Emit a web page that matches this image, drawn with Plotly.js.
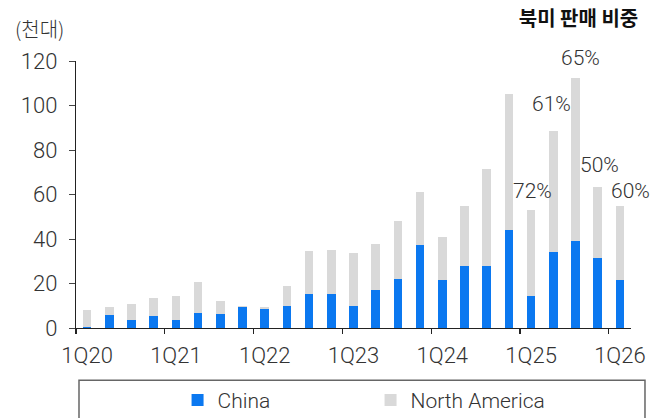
<!DOCTYPE html>
<html>
<head>
<meta charset="utf-8">
<script src="https://cdn.plot.ly/plotly-3.0.1.min.js"></script>
<style>html,body{margin:0;padding:0;background:#fff;}#chart{width:669px;height:418px;}</style>
</head>
<body>
<div id="chart"></div>
<script>
// Quarterly sales (thousand units)
const quarters = ['1Q20','2Q20','3Q20','4Q20','1Q21','2Q21','3Q21','4Q21','1Q22','2Q22','3Q22','4Q22',
  '1Q23','2Q23','3Q23','4Q23','1Q24','2Q24','3Q24','4Q24','1Q25','2Q25','3Q25','4Q25','1Q26'];
const china = [0.5, 5.7, 3.6, 5.4, 3.6, 6.6, 6.2, 9.4, 8.5, 9.9, 15.1, 15.1,
  9.8, 17.1, 21.9, 37.2, 21.4, 27.7, 27.7, 43.9, 14.2, 34.0, 39.0, 31.3, 21.4];
const northAmerica = [7.8, 3.7, 7.2, 8.1, 10.8, 14.2, 5.9, 0.5, 1.1, 9.0, 19.5, 20.0,
  23.9, 20.7, 26.1, 23.8, 19.4, 27.1, 43.6, 61.1, 38.7, 54.4, 73.5, 31.9, 33.4];
// North America share labels
const shareQuarters = ['1Q25','2Q25','3Q25','4Q25','1Q26'];
const shareLabels = ['72%','61%','65%','50%','60%'];
const tickQuarters = ['1Q20','1Q21','1Q22','1Q23','1Q24','1Q25','1Q26'];

// label offsets (px) – style only
const shareShift = [[1,19],[-1.5,27],[5,19.5],[2,22.5],[11,15.5]];

const xIdx = quarters.map((q,i)=>i);
const totals = china.map((v,i)=>v+northAmerica[i]);
const FONT = 'Roboto, "Noto Sans CJK KR", sans-serif';
const TXT = '#333333';

const traces = [
  {type:'bar', name:'China', x:xIdx, y:china, marker:{color:'#0B78F0'}, hoverinfo:'skip'},
  {type:'bar', name:'North America', x:xIdx, y:northAmerica, marker:{color:'#D9D9D9'}, hoverinfo:'skip'}
];

const annotations = shareQuarters.map((q,k)=>{
  const i = quarters.indexOf(q);
  return {x:i, y:totals[i], xref:'x', yref:'y', text:shareLabels[k], showarrow:false,
    xshift:shareShift[k][0], yshift:shareShift[k][1], xanchor:'center', yanchor:'middle',
    font:{family:FONT, size:21, color:TXT, weight:300}};
});
annotations.push({xref:'paper', yref:'paper', x:-0.114, y:1.12, xanchor:'left', yanchor:'middle',
  text:'(천대)', showarrow:false, font:{family:'"Noto Sans CJK KR", sans-serif', size:20, color:TXT, weight:300}});

const layout = {
  width:669, height:418,
  margin:{l:76, r:38, t:61, b:90, pad:0, autoexpand:false},
  paper_bgcolor:'#ffffff', plot_bgcolor:'#ffffff',
  barmode:'stack', bargap:0.61,
  showlegend:true,
  title:{text:'북미 판매 비중', xref:'container', yref:'container', x:0.954, xanchor:'right', y:0.955, yanchor:'middle',
    font:{family:'"Noto Sans CJK KR", sans-serif', size:20, color:'#111111', weight:700}},
  xaxis:{
    range:[-0.5, quarters.length-0.5], fixedrange:true, automargin:false,
    tickmode:'array', tickvals:tickQuarters.map(q=>quarters.indexOf(q)), ticktext:tickQuarters,
    ticks:'', showgrid:false, zeroline:false, ticklabelstandoff:7,
    showline:true, linecolor:'#222222', linewidth:1.2,
    tickfont:{family:FONT, size:22, color:TXT, weight:300},
    minor:{tick0:-0.5, dtick:4, ticks:'outside', ticklen:5, tickwidth:1.2, tickcolor:'#222222', showgrid:false}
  },
  yaxis:{
    range:[0,120], dtick:20, tick0:0, fixedrange:true, automargin:false,
    ticks:'outside', ticklen:6, tickwidth:1, tickcolor:'#444444', ticklabelstandoff:7,
    showline:true, linecolor:'#222222', linewidth:1.2,
    showgrid:false, zeroline:false,
    tickfont:{family:FONT, size:22, color:TXT, weight:300}
  },
  legend:{orientation:'h', x:0.183, xanchor:'left', y:-0.271, yanchor:'middle',
    traceorder:'normal', entrywidthmode:'pixels', entrywidth:148,
    font:{family:FONT, size:21, color:TXT, weight:300}, bgcolor:'rgba(0,0,0,0)', borderwidth:0},
  shapes:[{type:'rect', xref:'paper', yref:'paper', x0:0.0054, x1:1.0252, y0:-0.196, y1:-0.45,
    line:{color:'#666666', width:1.5}, fillcolor:'rgba(0,0,0,0)', layer:'above'}],
  annotations:annotations
};

Plotly.newPlot('chart', traces, layout, {staticPlot:true, displayModeBar:false});
</script>
</body>
</html>
